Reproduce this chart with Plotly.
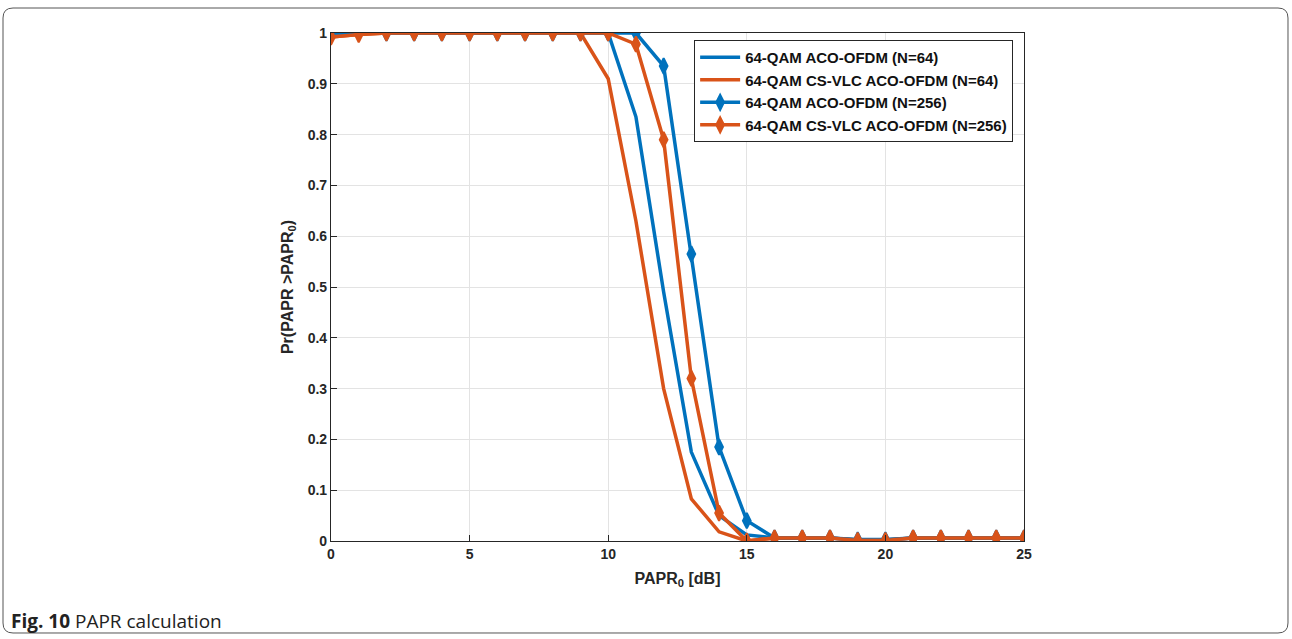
import plotly.graph_objects as go

# PAPR threshold (dB)
papr0 = list(range(0, 26))

# Complementary CDF of PAPR for each scheme
aco_n64 = [1, 1, 1, 1, 1, 1, 1, 1, 1, 1, 1, 0.835, 0.49, 0.175, 0.05, 0.012, 0.006,
           0.006, 0.006, 0.003, 0.003, 0.006, 0.006, 0.006, 0.006, 0.006]
csvlc_n64 = [0.992, 0.997, 1, 1, 1, 1, 1, 1, 1, 1, 0.91, 0.63, 0.30, 0.083, 0.018, 0.0, 0.006,
             0.006, 0.006, 0.002, 0.002, 0.006, 0.006, 0.006, 0.006, 0.006]
aco_n256 = [1, 1, 1, 1, 1, 1, 1, 1, 1, 1, 1, 1.0, 0.935, 0.565, 0.185, 0.04, 0.006,
            0.006, 0.006, 0.002, 0.002, 0.006, 0.006, 0.006, 0.006, 0.006]
csvlc_n256 = [0.992, 0.997, 1, 1, 1, 1, 1, 1, 1, 1, 1, 0.978, 0.79, 0.32, 0.055, 0.0, 0.006,
              0.006, 0.006, 0.001, 0.001, 0.006, 0.006, 0.006, 0.006, 0.006]

x_ticks = [0, 5, 10, 15, 20, 25]
y_ticks = [i / 10 for i in range(11)]
y_labels = ["0", "0.1", "0.2", "0.3", "0.4", "0.5", "0.6", "0.7", "0.8", "0.9", "1"]

BLUE = "#0072BD"
ORANGE = "#D95319"
LW = 3.5
AX = "#262626"
FONT = "Liberation Sans, Arial"

fig = go.Figure()
fig.add_trace(go.Scatter(x=papr0, y=aco_n64, mode="lines", name="<b>64-QAM ACO-OFDM (N=64)</b>",
                         line=dict(color=BLUE, width=LW)))
fig.add_trace(go.Scatter(x=papr0, y=csvlc_n64, mode="lines", name="<b>64-QAM CS-VLC ACO-OFDM (N=64)</b>",
                         line=dict(color=ORANGE, width=LW)))
fig.add_trace(go.Scatter(x=papr0, y=aco_n256, mode="lines+markers", name="<b>64-QAM ACO-OFDM (N=256)</b>",
                         line=dict(color=BLUE, width=LW),
                         marker=dict(symbol="diamond-tall", size=11, color=BLUE,
                                     line=dict(color=BLUE, width=2))))
fig.add_trace(go.Scatter(x=papr0, y=csvlc_n256, mode="lines+markers",
                         name="<b>64-QAM CS-VLC ACO-OFDM (N=256)</b>",
                         line=dict(color=ORANGE, width=LW),
                         marker=dict(symbol="diamond-tall", size=11, color=ORANGE,
                                     line=dict(color=ORANGE, width=2))))

tick_font = dict(family=FONT, size=14, color=AX)
axis_common = dict(ticks="inside", ticklen=6, tickcolor=AX,
                   showline=True, linecolor=AX, linewidth=1.2, mirror=True,
                   showgrid=True, gridcolor="#e3e3e3", gridwidth=1, zeroline=False,
                   tickfont=tick_font)

fig.update_xaxes(range=[0, 25], tickvals=x_ticks, ticktext=[f"<b>{t}</b>" for t in x_ticks],
                 title=dict(text="<b>PAPR<sub>0</sub> [dB]</b>",
                            font=dict(family=FONT, size=16, color=AX), standoff=11),
                 **axis_common)
fig.update_yaxes(range=[0, 1], tickvals=y_ticks, ticktext=[f"<b>{t}</b>" for t in y_labels],
                 title=dict(text="<b>Pr(PAPR >PAPR<sub>0</sub>)</b>",
                            font=dict(family=FONT, size=16, color=AX), standoff=10),
                 **axis_common)

fig.update_layout(
    width=1292, height=639,
    margin=dict(l=331, r=268, t=33, b=98),
    paper_bgcolor="white", plot_bgcolor="white",
    showlegend=True,
    legend=dict(x=0.524, y=0.986, xanchor="left", yanchor="top",
                bgcolor="white", bordercolor=AX, borderwidth=1,
                font=dict(family=FONT, size=15, color="#111111"),
                tracegroupgap=0, itemwidth=40),
    font=dict(family=FONT),
)

# pixel -> paper coordinate helpers for the outer frame and caption
W, H = 1292, 639
L, R, T, B = 331, 268, 33, 98
pw, ph = W - L - R, H - T - B


def px(xp):
    return (xp - L) / pw


def py(yp):
    return (H - B - yp) / ph


# outer rounded frame
r = 10
x0, y0, x1, y1 = 3, 8, 1288, 633
corners = [
    ("M", [(x0 + r, y0)]), ("L", [(x1 - r, y0)]), ("Q", [(x1, y0), (x1, y0 + r)]),
    ("L", [(x1, y1 - r)]), ("Q", [(x1, y1), (x1 - r, y1)]), ("L", [(x0 + r, y1)]),
    ("Q", [(x0, y1), (x0, y1 - r)]), ("L", [(x0, y0 + r)]), ("Q", [(x0, y0), (x0 + r, y0)]),
]
path = " ".join(cmd + " " + " ".join(f"{px(a):.5f},{py(b):.5f}" for a, b in pts)
                for cmd, pts in corners) + " Z"
fig.add_shape(type="path", xref="paper", yref="paper", path=path,
              line=dict(color="#555555", width=1), fillcolor="rgba(0,0,0,0)")

fig.add_annotation(xref="paper", yref="paper", x=px(9), y=py(621), xanchor="left", yanchor="middle",
                   text="<b>Fig. 10</b> PAPR calculation", showarrow=False,
                   font=dict(family="Open Sans", size=19, color="#222222"))

fig.write_html("out.html")
